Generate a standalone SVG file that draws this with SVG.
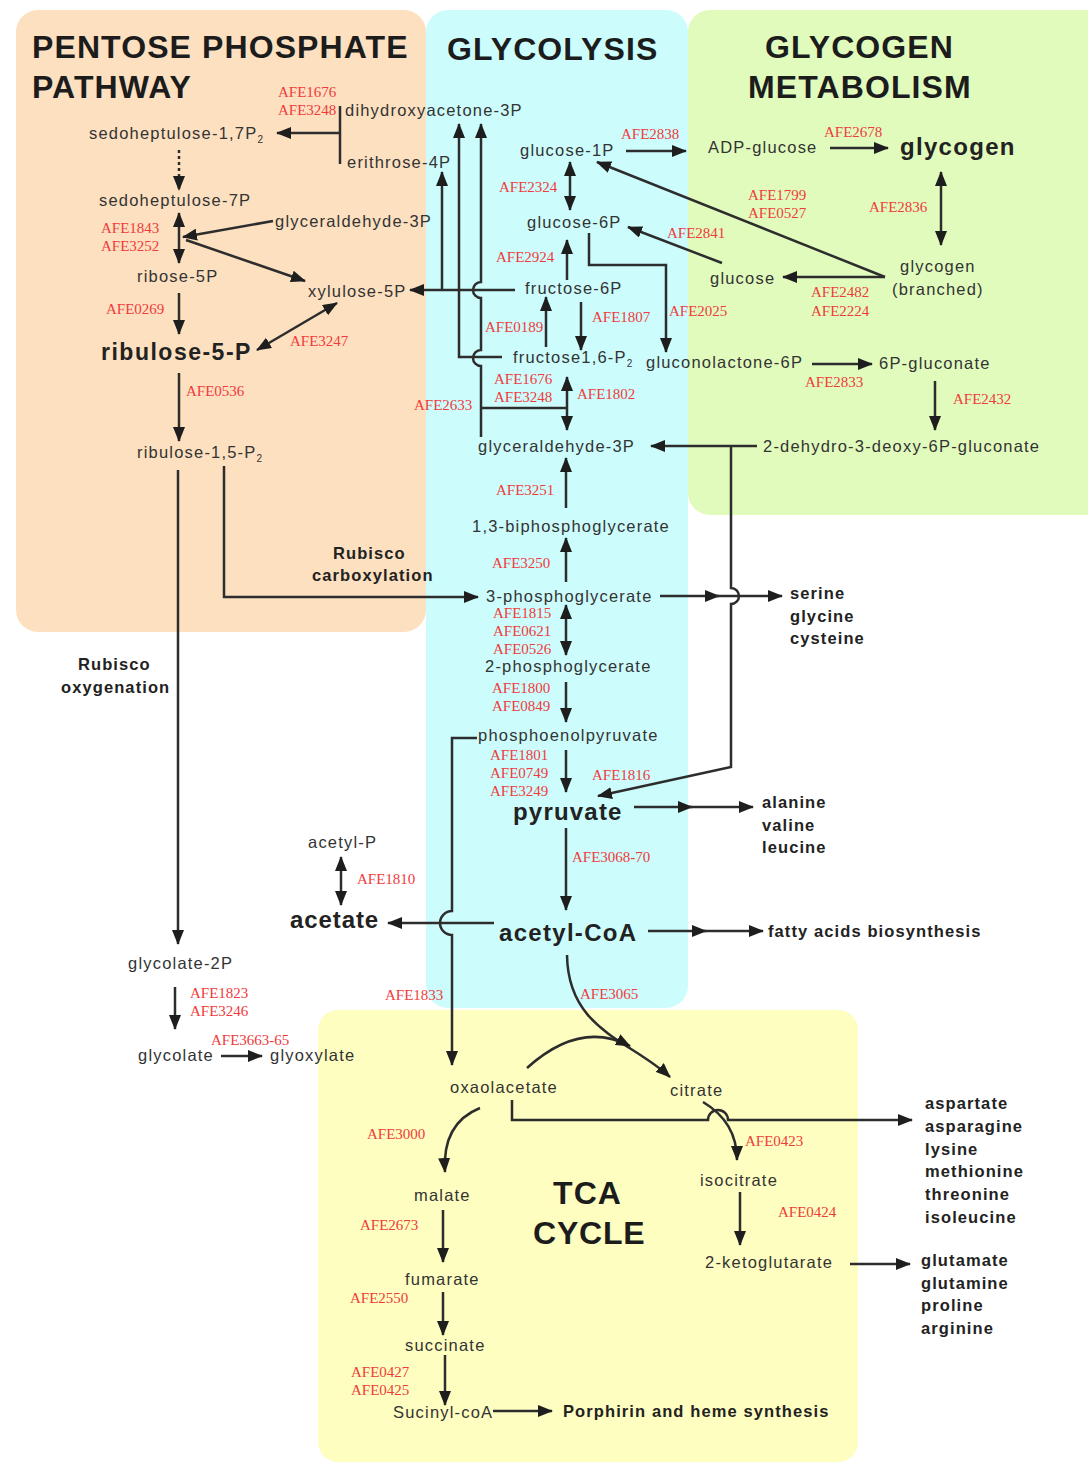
<svg xmlns="http://www.w3.org/2000/svg" width="1088" height="1464" viewBox="0 0 1088 1464">
  <style>
    .m{font-family:"Liberation Sans",Arial,Helvetica,sans-serif;font-size:16.5px;letter-spacing:1.2px;fill:#333}
    .b{font-family:"Liberation Sans",Arial,Helvetica,sans-serif;font-weight:bold;font-size:16.5px;letter-spacing:1.1px;fill:#222}
    .big{font-family:"Liberation Sans",Arial,Helvetica,sans-serif;font-weight:bold;font-size:24px;letter-spacing:1.2px;fill:#222}
    .t{font-family:"Liberation Sans",Arial,Helvetica,sans-serif;font-weight:bold;font-size:32px;letter-spacing:1.1px;fill:#1c1c1c}
    .e{font-family:"Liberation Serif","Times New Roman",serif;font-size:15px;fill:#ef3b3b}
    .c{fill:none;stroke:#2d2d2d;stroke-width:2.5}
    .a{marker-end:url(#ah)}
    .d{marker-start:url(#ah);marker-end:url(#ah)}
    .sub{font-size:10px;letter-spacing:0}
  </style>
  <defs>
    <marker id="ah" viewBox="0 0 15 12" refX="14" refY="6" markerWidth="15" markerHeight="12" markerUnits="userSpaceOnUse" orient="auto-start-reverse">
      <path d="M0,0 L15,6 L0,12 z" fill="#1e1e1e"/>
    </marker>
  </defs>

  <rect width="1088" height="1464" fill="#ffffff"/>

  <!-- pathway areas -->
  <g id="regions">
    <rect x="426" y="10" width="262" height="998" rx="22" fill="#ccfcfc"/>
    <rect x="16" y="10" width="410" height="622" rx="22" fill="#fde0c0"/>
    <rect x="688" y="10" width="430" height="505" rx="22" fill="#e1fbbd"/>
    <rect x="318" y="1010" width="540" height="452" rx="20" fill="#fefec0"/>
  </g>

  <g id="titles">
    <text class="t" x="32" y="58">PENTOSE PHOSPHATE</text>
    <text class="t" x="32" y="98">PATHWAY</text>
    <text class="t" x="447" y="60">GLYCOLYSIS</text>
    <text class="t" x="765" y="58">GLYCOGEN</text>
    <text class="t" x="748" y="98">METABOLISM</text>
    <text class="t" x="553" y="1204">TCA</text>
    <text class="t" x="533" y="1244" style="letter-spacing:0.8px">CYCLE</text>
  </g>

  <!-- reactions -->
  <g id="connectors">
    <!-- pentose phosphate -->
    <path class="c" d="M340,106 V164"/>
    <path class="c a" d="M340,133 H277"/>
    <path class="c a" d="M179,150 V190" stroke-dasharray="3,3"/>
    <path class="c d" d="M179,213 V263"/>
    <path class="c a" d="M273,221 L183,237"/>
    <path class="c a" d="M186,240 L305,281"/>
    <path class="c a" d="M179,293 V334"/>
    <path class="c d" d="M257,350 L337,303"/>
    <path class="c a" d="M179,373 V441"/>
    <path class="c a" d="M178,470 V944"/>
    <path class="c a" d="M224,466 V597 H478"/>
    <!-- glycolysis upper part -->
    <path class="c a" d="M515,290 H410"/>
    <path class="c a" d="M442,290 V172"/>
    <path class="c a" d="M502,357 H459 V124"/>
    <path class="c a" d="M481,437 V366 A8,8 0 0 1 481,350 V298 A8,8 0 0 1 481,282 V124"/>
    <path class="c" d="M481,408 H567"/>
    <path class="c d" d="M567,377 V430"/>
    <path class="c d" d="M570,162 V210"/>
    <path class="c a" d="M567,280 V240"/>
    <path class="c a" d="M546,347 V297"/>
    <path class="c a" d="M581,302 V350"/>
    <path class="c a" d="M589,233 V265 H666 V352"/>
    <!-- glycolysis lower part -->
    <path class="c a" d="M566,508 V458"/>
    <path class="c a" d="M566,582 V538"/>
    <path class="c d" d="M566,605 V655"/>
    <path class="c a" d="M566,682 V722"/>
    <path class="c a" d="M566,750 V792"/>
    <path class="c a" d="M660,596 H719"/>
    <path class="c a" d="M716,596 H782"/>
    <path class="c a" d="M757,446 H651"/>
    <path class="c a" d="M731,446 V588 A8,8 0 0 1 731,604 V767 L598,796"/>
    <path class="c a" d="M634,807 H692"/>
    <path class="c a" d="M690,807 H753"/>
    <path class="c a" d="M477,738 H452 V911 A12,12 0 0 0 452,935 V1065"/>
    <path class="c a" d="M566,828 V910"/>
    <path class="c a" d="M494,923 H388"/>
    <path class="c d" d="M341,857 V905"/>
    <path class="c a" d="M648,931 H706"/>
    <path class="c a" d="M704,931 H763"/>
    <!-- photorespiration -->
    <path class="c a" d="M175,987 V1029"/>
    <path class="c a" d="M221,1056 H262"/>
    <!-- glycogen -->
    <path class="c a" d="M626,151 H686"/>
    <path class="c a" d="M830,148 H888"/>
    <path class="c d" d="M941,172 V245"/>
    <path class="c a" d="M885,277 H783"/>
    <path class="c a" d="M885,277 L597,162"/>
    <path class="c a" d="M722,263 L628,227"/>
    <path class="c a" d="M812,364 H872"/>
    <path class="c a" d="M935,381 V430"/>
    <!-- TCA cycle -->
    <path class="c a" d="M567,955 C568,1030 630,1040 670,1077"/>
    <path class="c a" d="M527,1068 Q580,1020 630,1046"/>
    <path class="c a" d="M480,1108 C455,1118 443,1140 445,1172"/>
    <path class="c a" d="M512,1100 V1120 H708 A10,10 0 0 1 728,1120 H912"/>
    <path class="c a" d="M703,1102 C725,1115 737,1135 737,1160"/>
    <path class="c a" d="M740,1192 V1245"/>
    <path class="c a" d="M850,1264 H910"/>
    <path class="c a" d="M443,1210 V1262"/>
    <path class="c a" d="M443,1292 V1335"/>
    <path class="c a" d="M445,1355 V1405"/>
    <path class="c a" d="M493,1411 H552"/>
  </g>

  <!-- enzyme gene labels -->
  <g id="enzyme-labels">
    <text class="e" x="278" y="97">AFE1676</text>
    <text class="e" x="278" y="115">AFE3248</text>
    <text class="e" x="101" y="233">AFE1843</text>
    <text class="e" x="101" y="251">AFE3252</text>
    <text class="e" x="106" y="314">AFE0269</text>
    <text class="e" x="290" y="346">AFE3247</text>
    <text class="e" x="186" y="396">AFE0536</text>
    <text class="e" x="414" y="410">AFE2633</text>
    <text class="e" x="621" y="139">AFE2838</text>
    <text class="e" x="499" y="192">AFE2324</text>
    <text class="e" x="496" y="262">AFE2924</text>
    <text class="e" x="667" y="238">AFE2841</text>
    <text class="e" x="485" y="332">AFE0189</text>
    <text class="e" x="592" y="322">AFE1807</text>
    <text class="e" x="669" y="316">AFE2025</text>
    <text class="e" x="494" y="384">AFE1676</text>
    <text class="e" x="494" y="402">AFE3248</text>
    <text class="e" x="577" y="399">AFE1802</text>
    <text class="e" x="496" y="495">AFE3251</text>
    <text class="e" x="492" y="568">AFE3250</text>
    <text class="e" x="493" y="618">AFE1815</text>
    <text class="e" x="493" y="636">AFE0621</text>
    <text class="e" x="493" y="654">AFE0526</text>
    <text class="e" x="492" y="693">AFE1800</text>
    <text class="e" x="492" y="711">AFE0849</text>
    <text class="e" x="490" y="760">AFE1801</text>
    <text class="e" x="490" y="778">AFE0749</text>
    <text class="e" x="490" y="796">AFE3249</text>
    <text class="e" x="592" y="780">AFE1816</text>
    <text class="e" x="572" y="862">AFE3068-70</text>
    <text class="e" x="357" y="884">AFE1810</text>
    <text class="e" x="385" y="1000">AFE1833</text>
    <text class="e" x="580" y="999">AFE3065</text>
    <text class="e" x="190" y="998">AFE1823</text>
    <text class="e" x="190" y="1016">AFE3246</text>
    <text class="e" x="211" y="1045">AFE3663-65</text>
    <text class="e" x="367" y="1139">AFE3000</text>
    <text class="e" x="360" y="1230">AFE2673</text>
    <text class="e" x="350" y="1303">AFE2550</text>
    <text class="e" x="351" y="1377">AFE0427</text>
    <text class="e" x="351" y="1395">AFE0425</text>
    <text class="e" x="745" y="1146">AFE0423</text>
    <text class="e" x="778" y="1217">AFE0424</text>
    <text class="e" x="824" y="137">AFE2678</text>
    <text class="e" x="748" y="200">AFE1799</text>
    <text class="e" x="748" y="218">AFE0527</text>
    <text class="e" x="869" y="212">AFE2836</text>
    <text class="e" x="811" y="297">AFE2482</text>
    <text class="e" x="811" y="316">AFE2224</text>
    <text class="e" x="805" y="387">AFE2833</text>
    <text class="e" x="953" y="404">AFE2432</text>
  </g>

  <!-- metabolites -->
  <g id="n-sedoheptulose-17p2"><text class="m" x="89" y="139">sedoheptulose-1,7P<tspan class="sub" dy="4">2</tspan></text></g>
  <g id="n-dhap"><text class="m" x="345" y="116">dihydroxyacetone-3P</text></g>
  <g id="n-erythrose-4p"><text class="m" x="347" y="168">erithrose-4P</text></g>
  <g id="n-sedoheptulose-7p"><text class="m" x="99" y="206">sedoheptulose-7P</text></g>
  <g id="n-gap-ppp"><text class="m" x="275" y="227">glyceraldehyde-3P</text></g>
  <g id="n-ribose-5p"><text class="m" x="137" y="282">ribose-5P</text></g>
  <g id="n-xylulose-5p"><text class="m" x="308" y="297">xylulose-5P</text></g>
  <g id="n-ribulose-5p"><text class="big" x="101" y="360" style="font-size:23px;letter-spacing:1.5px">ribulose-5-P</text></g>
  <g id="n-rubp"><text class="m" x="137" y="458">ribulose-1,5-P<tspan class="sub" dy="4">2</tspan></text></g>
  <g id="n-carboxylation"><text class="b" x="333" y="559">Rubisco</text><text class="b" x="312" y="581">carboxylation</text></g>
  <g id="n-oxygenation"><text class="b" x="78" y="670">Rubisco</text><text class="b" x="61" y="693">oxygenation</text></g>

  <g id="n-glucose-1p"><text class="m" x="520" y="156">glucose-1P</text></g>
  <g id="n-glucose-6p"><text class="m" x="527" y="228">glucose-6P</text></g>
  <g id="n-fructose-6p"><text class="m" x="525" y="294">fructose-6P</text></g>
  <g id="n-fructose-16p2"><text class="m" x="513" y="363">fructose1,6-P<tspan class="sub" dy="4">2</tspan></text></g>
  <g id="n-gluconolactone-6p"><text class="m" x="646" y="368">gluconolactone-6P</text></g>
  <g id="n-gap"><text class="m" x="478" y="452">glyceraldehyde-3P</text></g>
  <g id="n-13bpg"><text class="m" x="472" y="532">1,3-biphosphoglycerate</text></g>
  <g id="n-3pg"><text class="m" x="486" y="602">3-phosphoglycerate</text></g>
  <g id="n-2pg"><text class="m" x="485" y="672">2-phosphoglycerate</text></g>
  <g id="n-pep"><text class="m" x="478" y="741">phosphoenolpyruvate</text></g>
  <g id="n-pyruvate"><text class="big" x="513" y="820">pyruvate</text></g>
  <g id="n-acetyl-coa"><text class="big" x="499" y="941" style="letter-spacing:1.3px">acetyl-CoA</text></g>
  <g id="n-acetate"><text class="big" x="290" y="928" style="letter-spacing:0.9px">acetate</text></g>
  <g id="n-acetyl-p"><text class="m" x="308" y="848">acetyl-P</text></g>

  <g id="n-ser-gly-cys"><text class="b" x="790" y="599">serine</text><text class="b" x="790" y="622">glycine</text><text class="b" x="790" y="644">cysteine</text></g>
  <g id="n-ala-val-leu"><text class="b" x="762" y="808">alanine</text><text class="b" x="762" y="831">valine</text><text class="b" x="762" y="853">leucine</text></g>
  <g id="n-fatty-acids"><text class="b" x="768" y="937">fatty acids biosynthesis</text></g>

  <g id="n-glycolate-2p"><text class="m" x="128" y="969">glycolate-2P</text></g>
  <g id="n-glycolate"><text class="m" x="138" y="1061">glycolate</text></g>
  <g id="n-glyoxylate"><text class="m" x="270" y="1061">glyoxylate</text></g>

  <g id="n-adp-glucose"><text class="m" x="708" y="153">ADP-glucose</text></g>
  <g id="n-glycogen"><text class="big" x="900" y="155" style="letter-spacing:1.3px">glycogen</text></g>
  <g id="n-glycogen-branched"><text class="m" x="900" y="272">glycogen</text><text class="m" x="892" y="295">(branched)</text></g>
  <g id="n-glucose"><text class="m" x="710" y="284">glucose</text></g>
  <g id="n-6p-gluconate"><text class="m" x="879" y="369">6P-gluconate</text></g>
  <g id="n-kdpg"><text class="m" x="763" y="452">2-dehydro-3-deoxy-6P-gluconate</text></g>

  <g id="n-oxaloacetate"><text class="m" x="450" y="1093">oxaolacetate</text></g>
  <g id="n-citrate"><text class="m" x="670" y="1096">citrate</text></g>
  <g id="n-isocitrate"><text class="m" x="700" y="1186">isocitrate</text></g>
  <g id="n-2-ketoglutarate"><text class="m" x="705" y="1268">2-ketoglutarate</text></g>
  <g id="n-malate"><text class="m" x="414" y="1201">malate</text></g>
  <g id="n-fumarate"><text class="m" x="405" y="1285">fumarate</text></g>
  <g id="n-succinate"><text class="m" x="405" y="1351">succinate</text></g>
  <g id="n-succinyl-coa"><text class="m" x="393" y="1418">Sucinyl-coA</text></g>
  <g id="n-porphyrin"><text class="b" x="563" y="1417">Porphirin and heme synthesis</text></g>
  <g id="n-asp-family"><text class="b" x="925" y="1109">aspartate</text><text class="b" x="925" y="1132">asparagine</text><text class="b" x="925" y="1155">lysine</text><text class="b" x="925" y="1177">methionine</text><text class="b" x="925" y="1200">threonine</text><text class="b" x="925" y="1223">isoleucine</text></g>
  <g id="n-glu-family"><text class="b" x="921" y="1266">glutamate</text><text class="b" x="921" y="1289">glutamine</text><text class="b" x="921" y="1311">proline</text><text class="b" x="921" y="1334">arginine</text></g>
</svg>
